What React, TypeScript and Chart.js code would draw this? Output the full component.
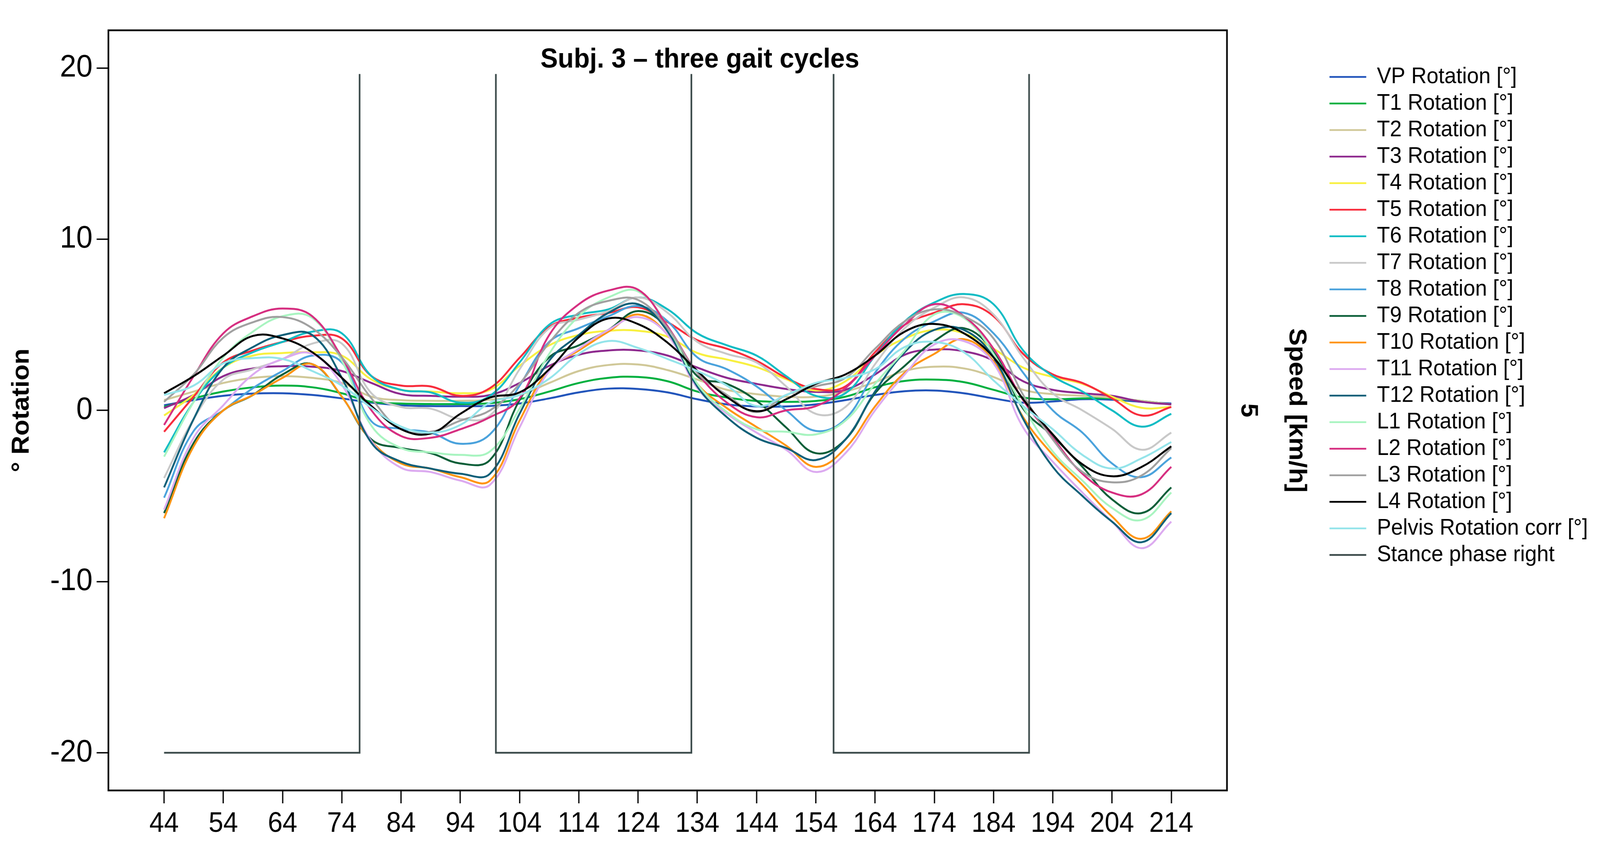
import { useEffect, useRef } from 'react';
import { Chart, registerables } from 'chart.js';

Chart.register(...registerables);

const FONT = '"Liberation Sans", Arial, Helvetica, sans-serif';

const TITLE = 'Subj. 3 \u2013 three gait cycles';
const Y_TITLE = '\u00b0 Rotation';
const Y2_TITLE = 'Speed [km/h]';

// frame numbers (x positions of the samples)
const frames = [44, 49, 54, 59, 64, 69, 74, 79, 84, 89, 94, 99, 104, 109, 114, 119, 124, 129, 134, 139, 144, 149, 154, 159, 164, 169, 174, 179, 184, 189, 194, 199, 204, 209, 214];

const xTicks = [44, 54, 64, 74, 84, 94, 104, 114, 124, 134, 144, 154, 164, 174, 184, 194, 204, 214];
const yTicks = [-20, -10, 0, 10, 20];
const y2Ticks = [5];

const vp = [0.3, 0.6, 0.85, 0.98, 1.0, 0.9, 0.7, 0.45, 0.3, 0.25, 0.25, 0.26, 0.4, 0.7, 1.05, 1.27, 1.25, 1.05, 0.65, 0.35, 0.23, 0.23, 0.35, 0.6, 0.9, 1.12, 1.16, 1.0, 0.7, 0.45, 0.52, 0.65, 0.62, 0.5, 0.4];
const t1 = [0.2, 0.7, 1.1, 1.35, 1.45, 1.35, 1.0, 0.5, 0.4, 0.37, 0.37, 0.42, 0.65, 1.1, 1.6, 1.9, 1.95, 1.7, 1.1, 0.75, 0.55, 0.5, 0.55, 0.8, 1.35, 1.72, 1.8, 1.65, 1.2, 0.75, 0.65, 0.7, 0.7, 0.55, 0.35];
const t2 = [0.6, 1.1, 1.6, 1.9, 2.0, 1.9, 1.6, 0.8, 0.6, 0.56, 0.56, 0.62, 0.9, 1.6, 2.3, 2.65, 2.68, 2.35, 1.8, 1.2, 0.95, 0.8, 0.8, 1.1, 1.65, 2.3, 2.55, 2.45, 1.95, 1.2, 0.95, 0.85, 0.75, 0.55, 0.35];
const t3 = [0.13, 0.9, 2.0, 2.45, 2.58, 2.55, 2.3, 1.6, 0.95, 0.85, 0.8, 0.9, 1.6, 2.6, 3.25, 3.5, 3.5, 3.2, 2.5, 1.9, 1.55, 1.25, 1.08, 1.2, 2.1, 3.25, 3.55, 3.45, 2.9, 1.7, 1.2, 1.0, 0.85, 0.5, 0.35];
const t4 = [-0.3, 0.9, 2.5, 3.2, 3.35, 3.4, 3.2, 1.8, 1.2, 1.1, 1.0, 1.2, 2.6, 3.8, 4.4, 4.65, 4.65, 4.3, 3.35, 2.97, 2.53, 1.82, 1.16, 1.7, 3.2, 4.2, 4.7, 4.5, 3.6, 2.5, 1.95, 1.55, 0.8, 0.15, 0.2];
const t5 = [-1.25, 0.8, 2.8, 3.5, 4.0, 4.35, 4.2, 2.0, 1.45, 1.4, 0.85, 1.3, 3.07, 4.87, 5.42, 5.69, 6.02, 5.15, 4.1, 3.6, 2.9, 1.9, 1.25, 1.4, 3.4, 5.0, 5.7, 6.2, 5.5, 3.3, 2.1, 1.6, 0.7, -0.3, 0.2];
const t6 = [-2.45, 0.5, 2.5, 3.4, 4.0, 4.6, 4.5, 2.0, 1.2, 1.05, 0.45, 0.85, 2.8, 5.0, 5.6, 5.9, 6.6, 5.9, 4.5, 3.8, 3.2, 2.0, 0.85, 1.0, 3.2, 5.2, 6.3, 6.8, 6.2, 3.5, 2.0, 1.1, 0.0, -0.95, -0.2];
const t7 = [-3.95, -0.5, 1.8, 2.4, 3.0, 3.9, 3.9, 1.0, 0.2, 0.1, -0.5, -0.3, 2.4, 4.8, 5.3, 5.8, 6.6, 5.7, 4.0, 3.3, 2.8, 1.4, -0.2, 0.2, 2.7, 4.8, 6.0, 6.6, 5.6, 3.07, 1.0, 0.0, -1.08, -2.3, -1.3];
const t8 = [-5.1, -1.2, 0.0, 1.3, 2.3, 3.2, 2.8, -0.64, -1.08, -1.3, -1.95, -1.4, 1.44, 4.0, 4.8, 5.5, 6.1, 5.2, 3.1, 2.4, 1.4, 0.0, -1.2, -0.5, 2.2, 4.2, 5.2, 5.7, 4.5, 2.2, 0.0, -1.3, -3.1, -3.9, -2.75];
const t9 = [-6.0, -1.9, 0.0, 0.9, 2.1, 2.7, 0.8, -1.7, -2.2, -2.5, -3.1, -2.9, 0.6, 3.1, 3.8, 4.7, 5.8, 4.8, 2.0, 1.55, 0.56, -1.0, -2.5, -1.7, 1.0, 2.6, 4.05, 4.8, 3.4, 0.1, -1.5, -3.3, -5.2, -6.0, -4.5];
const t10 = [-6.3, -2.1, 0.0, 0.9, 1.9, 2.7, 0.8, -1.8, -3.1, -3.4, -3.9, -4.1, -0.6, 2.4, 3.5, 4.6, 5.6, 4.4, 1.55, 0.13, -0.97, -2.06, -3.3, -2.2, 0.23, 2.2, 3.3, 4.16, 2.86, -0.4, -2.6, -4.35, -6.2, -7.5, -5.9];
const t11 = [-5.8, -1.6, 0.3, 2.1, 3.0, 3.3, 1.5, -1.8, -3.35, -3.6, -4.1, -4.35, -1.0, 2.3, 3.6, 4.7, 5.45, 4.4, 1.3, -0.2, -1.3, -2.3, -3.6, -2.5, 0.0, 2.1, 3.85, 4.05, 2.75, -1.0, -3.0, -4.8, -6.5, -8.05, -6.5];
const t12 = [-4.5, -0.5, 2.5, 3.7, 4.4, 4.4, 1.9, -1.9, -3.0, -3.4, -3.7, -3.7, -0.2, 2.9, 4.4, 5.7, 6.2, 4.6, 1.4, -0.4, -1.6, -2.2, -2.9, -1.7, 1.1, 3.4, 4.7, 4.7, 3.1, -0.5, -3.3, -5.0, -6.5, -7.7, -6.0];
const l1 = [-2.7, 0.5, 3.1, 4.6, 5.5, 5.4, 2.9, -0.9, -2.2, -2.45, -2.6, -2.4, 0.1, 3.3, 5.5, 6.6, 6.95, 4.9, 1.55, -0.1, -1.1, -1.25, -1.4, -0.6, 1.55, 3.5, 5.6, 5.4, 3.3, 0.2, -2.4, -4.1, -5.7, -6.4, -4.8];
const l2 = [-0.85, 2.0, 4.5, 5.5, 5.95, 5.5, 3.1, 0.0, -1.5, -1.6, -1.1, -0.4, 0.7, 4.4, 6.2, 7.0, 7.05, 4.9, 2.2, 0.45, -0.4, 0.0, 0.25, 1.3, 3.2, 5.0, 6.2, 5.5, 3.6, 0.6, -1.6, -3.7, -4.8, -4.9, -3.3];
const l3 = [0.5, 2.1, 4.25, 5.15, 5.45, 4.8, 3.1, 0.7, -1.1, -1.25, -0.6, 0.0, 1.55, 3.95, 5.7, 6.4, 6.45, 4.8, 2.2, 0.9, -0.1, 0.9, 1.4, 1.9, 3.6, 5.2, 5.9, 5.5, 4.2, 0.9, -1.7, -3.6, -4.2, -3.8, -2.2];
const l4 = [1.0, 2.0, 3.2, 4.35, 4.2, 3.4, 1.9, 0.25, -1.1, -1.35, -0.2, 0.75, 1.05, 2.4, 4.27, 5.37, 5.04, 3.95, 2.31, 0.78, -0.05, 0.65, 1.55, 2.1, 3.2, 4.6, 5.05, 4.5, 3.1, 0.65, -1.4, -3.15, -3.85, -3.3, -2.1];
const pelvis = [0.9, 1.45, 2.75, 3.05, 3.0, 2.3, 1.45, 0.15, -0.95, -1.3, -0.85, 0.45, 0.9, 1.85, 3.3, 4.05, 3.65, 3.0, 2.3, 1.45, 0.25, 0.9, 1.6, 1.9, 2.4, 3.7, 4.0, 3.4, 1.75, 0.25, -1.1, -2.6, -3.4, -2.8, -1.85];

const stanceX = [44, 77, 77, 88, 100, 100, 133, 133, 145, 157, 157, 190, 190];
const stanceY = [-20, -20, 19.65, null, 19.65, -20, -20, 19.65, null, 19.65, -20, -20, 19.65];

const seriesLabels = [
  'VP Rotation [\u00b0]', 'T1 Rotation [\u00b0]', 'T2 Rotation [\u00b0]', 'T3 Rotation [\u00b0]',
  'T4 Rotation [\u00b0]', 'T5 Rotation [\u00b0]', 'T6 Rotation [\u00b0]', 'T7 Rotation [\u00b0]',
  'T8 Rotation [\u00b0]', 'T9 Rotation [\u00b0]', 'T10 Rotation [\u00b0]', 'T11 Rotation [\u00b0]',
  'T12 Rotation [\u00b0]', 'L1 Rotation [\u00b0]', 'L2 Rotation [\u00b0]', 'L3 Rotation [\u00b0]',
  'L4 Rotation [\u00b0]', 'Pelvis Rotation corr [\u00b0]',
];
const stanceLabel = 'Stance phase right';
const seriesValues = [vp, t1, t2, t3, t4, t5, t6, t7, t8, t9, t10, t11, t12, l1, l2, l3, l4, pelvis];
const seriesColors = [
  '#2255bb', '#00b040', '#d0c898', '#8e2a8e', '#f8f040', '#f82c3c', '#10bcc4', '#c8c8c8',
  '#4aa2dc', '#0b5e38', '#ff9412', '#dcaaf0', '#0e5f78', '#a8f4c0', '#d62e80', '#a0a0a0',
  '#000000', '#94e4ea',
];
const stanceColor = '#3b4a4a';

// drawing resolution (the reference size); the canvas is shown stretched to the viewport
const W = 4355;
const H = 2156;

export default function App() {
  const ref = useRef<HTMLCanvasElement | null>(null);
  const vw = typeof window !== 'undefined' ? window.innerWidth : W;
  const vh = typeof window !== 'undefined' ? window.innerHeight : H;

  useEffect(() => {
    const canvas = ref.current;
    if (!canvas) return;
    Chart.defaults.font.family = FONT;
    Chart.defaults.color = '#000';

    const legendFontSize = 58;
    const boxW = 100;
    const legendPad = 10;
    const mctx = document.createElement('canvas').getContext('2d') as CanvasRenderingContext2D;
    mctx.font = `${legendFontSize}px ${FONT}`;
    const allLabels = [...seriesLabels, stanceLabel];
    const maxText = Math.max(...allLabels.map((l) => mctx.measureText(l).width));
    const legendLeft = 3617 - legendPad;
    const legendWidth = legendPad + boxW + legendFontSize / 2 + maxText + 10;
    const padRight = Math.max(0, W - legendLeft - legendWidth);
    const legendTitleFont = 10;
    const legendTitleH = 197 - 53 - legendPad - legendFontSize / 2;
    const legendTitlePadTop = Math.max(0, legendTitleH - legendTitleFont * 1.2);

    mctx.font = `bold 64px ${FONT}`;
    const fiveW = mctx.measureText('5').width;

    const datasets: any[] = seriesValues.map((vals, i) => ({
      label: seriesLabels[i],
      data: frames.map((x, j) => ({ x, y: vals[j] })),
      borderColor: seriesColors[i],
      backgroundColor: seriesColors[i],
      borderWidth: 5,
      pointRadius: 0,
      tension: 0.4,
      fill: false,
      order: 100 - i,
      yAxisID: 'y',
    }));
    datasets.push({
      label: stanceLabel,
      data: stanceX.map((x, j) => ({ x, y: stanceY[j] })),
      borderColor: stanceColor,
      backgroundColor: stanceColor,
      borderWidth: 4.5,
      pointRadius: 0,
      tension: 0,
      fill: false,
      spanGaps: false,
      order: 1,
      yAxisID: 'y',
    });

    const framePlugin = {
      id: 'frameAndTitle',
      afterDraw(chart: any) {
        const { ctx, chartArea } = chart;
        ctx.save();
        ctx.strokeStyle = '#000';
        ctx.lineWidth = 4.5;
        ctx.strokeRect(chartArea.left, chartArea.top, chartArea.right - chartArea.left, chartArea.bottom - chartArea.top);
        ctx.font = `bold 71px ${FONT}`;
        ctx.fillStyle = '#000';
        ctx.textAlign = 'center';
        ctx.textBaseline = 'alphabetic';
        ctx.fillText(TITLE, chartArea.left + (chartArea.right - chartArea.left) * 0.5288, chartArea.top + 95);
        ctx.restore();
      },
    };

    const chart = new Chart(canvas, {
      type: 'line',
      data: { datasets },
      plugins: [framePlugin],
      options: {
        animation: false,
        responsive: false,
        devicePixelRatio: 1,
        events: [],
        layout: { padding: { top: 53, left: 0, right: padRight, bottom: 0 } },
        plugins: {
          tooltip: { enabled: false },
          title: { display: false },
          legend: {
            display: true,
            position: 'right',
            align: 'start',
            title: { display: true, text: ' ', font: { size: legendTitleFont }, padding: { top: legendTitlePadTop, bottom: 0 } },
            labels: {
              font: { size: legendFontSize, family: FONT },
              color: '#000',
              boxWidth: boxW,
              boxHeight: 4.5,
              padding: legendPad,
              generateLabels: (c: any) =>
                c.data.datasets.map((ds: any, i: number) => ({
                  text: ds.label,
                  fillStyle: ds.borderColor,
                  strokeStyle: ds.borderColor,
                  lineWidth: 0,
                  hidden: false,
                  datasetIndex: i,
                })),
            },
          },
        },
        scales: {
          x: {
            type: 'linear',
            position: 'bottom',
            min: 34.6,
            max: 223.4,
            afterBuildTicks: (scale: any) => {
              scale.ticks = xTicks.map((v) => ({ value: v }));
            },
            afterFit: (scale: any) => {
              scale.height = 132;
            },
            ticks: {
              autoSkip: false,
              maxRotation: 0,
              minRotation: 0,
              padding: 10,
              color: '#000',
              font: { size: 72, family: FONT },
              callback: (v: any) => String(v),
            },
            grid: { display: true, drawOnChartArea: false, drawTicks: true, tickLength: 33, tickWidth: 3.5, tickColor: '#000' },
            border: { display: false },
          },
          y: {
            type: 'linear',
            position: 'left',
            min: -22.2,
            max: 22.2,
            afterBuildTicks: (scale: any) => {
              scale.ticks = yTicks.map((v) => ({ value: v }));
            },
            afterFit: (scale: any) => {
              scale.width = 295;
            },
            ticks: {
              padding: 11,
              color: '#000',
              font: { size: 80, family: FONT },
              callback: (v: any) => String(v),
            },
            grid: { display: true, drawOnChartArea: false, drawTicks: true, tickLength: 32, tickWidth: 3.5, tickColor: '#000' },
            border: { display: false },
            title: {
              display: true,
              text: Y_TITLE,
              color: '#000',
              font: { size: 67, weight: 'bold', family: FONT },
              padding: { top: 60 - 67 * 0.6, bottom: 0 },
            },
          },
          y2: {
            type: 'linear',
            position: 'right',
            min: 0,
            max: 10,
            afterBuildTicks: (scale: any) => {
              scale.ticks = y2Ticks.map((v) => ({ value: v }));
            },
            afterFit: (scale: any) => {
              scale.width = legendLeft - 3338;
            },
            ticks: {
              padding: Math.max(0, 57 - fiveW / 2),
              crossAlign: 'center',
              minRotation: -90,
              maxRotation: -90,
              color: '#000',
              font: { size: 64, weight: 'bold', family: FONT },
              callback: (v: any) => String(v),
            },
            grid: { display: false, drawOnChartArea: false, drawTicks: false },
            border: { display: false },
            title: {
              display: true,
              text: Y2_TITLE,
              color: '#000',
              font: { size: 67, weight: 'bold', family: FONT },
              padding: { top: Math.max(0, legendLeft - 3527 - 67 * 0.6), bottom: 0 },
            },
          },
        },
      } as any,
    });

    return () => {
      chart.destroy();
    };
  }, []);

  return (
    <div style={{ position: 'fixed', left: 0, top: 0, width: vw, height: vh, background: '#fff', overflow: 'hidden' }}>
      <canvas ref={ref} width={W} height={H} style={{ display: 'block', width: `${vw}px`, height: `${vh}px` }} />
    </div>
  );
}
